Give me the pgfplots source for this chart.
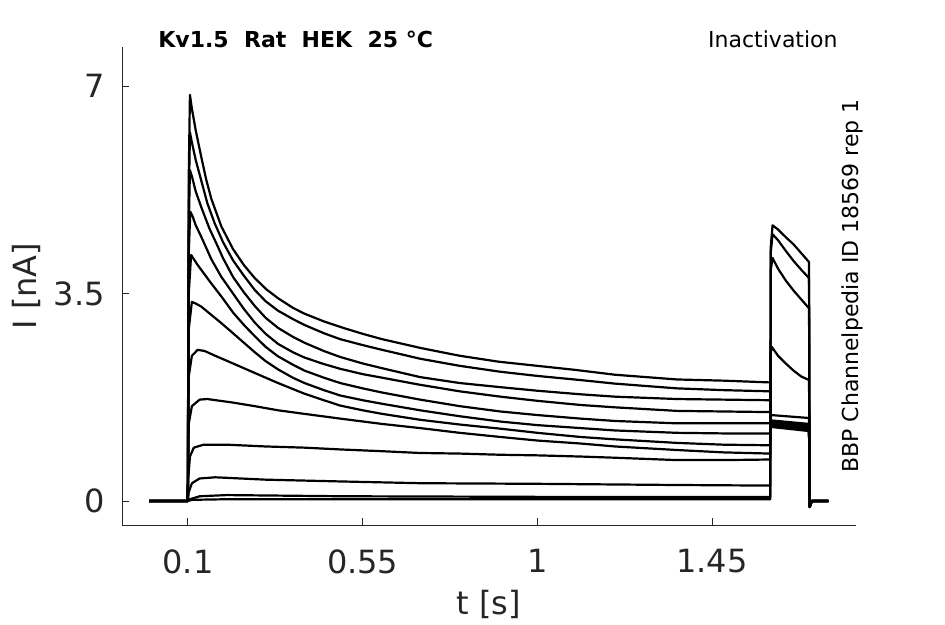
\documentclass[border=0pt]{standalone}
\usepackage{fontspec}
\setmainfont{DejaVu Sans}
\usepackage{pgfplots}
\pgfplotsset{compat=1.18}
\usetikzlibrary{calc}
\definecolor{axgray}{HTML}{262626}
\begin{document}
\begin{tikzpicture}
\begin{axis}[
  scale only axis, width=367pt, height=239pt,
  xmin=-0.070, xmax=1.821, ymin=-0.405, ymax=7.658,
  axis x line*=bottom, axis y line*=left,
  axis line style={axgray, line width=0.5pt, -},
  tick align=inside, major tick length=3.5pt,
  tick style={axgray, line width=0.5pt},
  xtick={0.1,0.55,1,1.45}, xticklabels={0.1,0.55,1,1.45},
  ytick={0,3.5,7}, yticklabels={0,3.5,7},
  ticklabel style={font=\fontsize{16}{19}\selectfont, text=axgray},
  xticklabel style={anchor=north, inner sep=0pt, yshift=-12pt},
  yticklabel style={anchor=east, inner sep=0pt, xshift=-8.5pt},
  /pgf/number format/assume math mode=true,
  clip=false,
  no markers,
  every axis plot post/.append style={black, solid, line width=1.1pt, line join=round},
]
\coordinate (sw) at (rel axis cs:0,0);
\coordinate (ne) at (rel axis cs:1,1);
% trace 1
\addplot table {
t I
0 0
0.0995 0
0.102 5.5
0.105 6.85
0.11 6.62
0.12 6.25
0.134 5.81
0.147 5.42
0.16 5.10
0.186 4.63
0.216 4.25
0.244 3.98
0.272 3.76
0.302 3.57
0.332 3.42
0.37 3.26
0.4 3.16
0.45 3.03
0.5 2.92
0.55 2.82
0.6 2.73
0.7 2.58
0.8 2.45
0.9 2.35
1.0 2.28
1.1 2.21
1.2 2.13
1.36 2.05
1.48 2.03
1.6 2.00
1.6015 1.25
1.70 1.18
1.7015 -0.1
1.707 0
1.75 0
};
% trace 2
\addplot table {
t I
0 0
0.0995 0
0.102 5.0
0.105 6.22
0.11 6.05
0.12 5.75
0.134 5.41
0.15 5.02
0.169 4.68
0.19 4.37
0.216 4.06
0.244 3.80
0.272 3.56
0.30 3.37
0.332 3.21
0.37 3.07
0.4 2.97
0.45 2.83
0.492 2.73
0.55 2.63
0.6 2.55
0.698 2.40
0.8 2.28
0.905 2.18
1.0 2.11
1.111 2.04
1.2 1.98
1.36 1.90
1.48 1.87
1.6 1.85
1.6015 1.26
1.70 1.19
1.7015 -0.1
1.707 0
1.75 0
};
% trace 3
\addplot table {
t I
0 0
0.0995 0
0.102 4.6
0.105 5.58
0.11 5.48
0.12 5.22
0.134 4.96
0.155 4.60
0.177 4.29
0.19 4.10
0.216 3.78
0.244 3.52
0.272 3.29
0.30 3.09
0.332 2.92
0.37 2.77
0.4 2.67
0.45 2.53
0.492 2.43
0.55 2.32
0.6 2.24
0.698 2.09
0.8 1.99
0.905 1.92
1.0 1.86
1.111 1.80
1.2 1.76
1.36 1.72
1.48 1.71
1.6 1.70
1.6015 1.27
1.70 1.20
1.7015 -0.1
1.707 0
1.75 0
};
% trace 4
\addplot table {
t I
0 0
0.0995 0
0.102 4.2
0.106 4.88
0.112 4.80
0.12 4.65
0.134 4.46
0.16 4.08
0.186 3.78
0.216 3.50
0.244 3.24
0.272 3.01
0.30 2.82
0.332 2.65
0.37 2.51
0.4 2.42
0.45 2.31
0.492 2.23
0.55 2.14
0.6 2.08
0.698 1.96
0.8 1.85
0.905 1.76
1.0 1.69
1.111 1.62
1.2 1.58
1.36 1.52
1.48 1.51
1.6 1.50
1.6015 1.28
1.70 1.22
1.7015 -0.1
1.707 0
1.75 0
};
% trace 5
\addplot table {
t I
0 0
0.0995 0
0.102 3.5
0.108 4.15
0.115 4.08
0.125 3.98
0.134 3.90
0.16 3.67
0.186 3.45
0.216 3.18
0.244 2.97
0.272 2.78
0.30 2.60
0.332 2.44
0.37 2.30
0.4 2.20
0.45 2.08
0.492 1.99
0.55 1.90
0.6 1.83
0.698 1.71
0.8 1.60
0.905 1.51
1.0 1.45
1.111 1.39
1.2 1.35
1.36 1.31
1.48 1.31
1.6 1.31
1.6015 1.30
1.70 1.24
1.7015 -0.1
1.707 0
1.75 0
};
% trace 6
\addplot table {
t I
0 0
0.0995 0
0.102 2.9
0.11 3.36
0.12 3.33
0.134 3.28
0.16 3.14
0.186 3.00
0.216 2.83
0.244 2.67
0.272 2.51
0.30 2.36
0.332 2.22
0.37 2.08
0.4 1.99
0.45 1.87
0.492 1.78
0.55 1.70
0.6 1.64
0.698 1.53
0.8 1.43
0.905 1.34
1.0 1.28
1.111 1.23
1.2 1.19
1.36 1.15
1.48 1.14
1.6 1.14
1.6015 1.33
1.70 1.27
1.7015 -0.1
1.707 0
1.75 0
};
% trace 7
\addplot table {
t I
0 0
0.0995 0
0.102 2.1
0.11 2.45
0.125 2.55
0.143 2.53
0.17 2.45
0.216 2.32
0.272 2.16
0.332 1.99
0.4 1.81
0.45 1.70
0.492 1.61
0.55 1.53
0.6 1.47
0.698 1.37
0.8 1.29
0.905 1.22
1.0 1.15
1.111 1.08
1.2 1.04
1.36 0.98
1.48 0.95
1.6 0.94
1.6015 1.36
1.70 1.30
1.7015 -0.1
1.707 0
1.75 0
};
% trace 8
\addplot table {
t I
0 0
0.0995 0
0.102 1.30
0.11 1.60
0.13 1.71
0.15 1.72
0.216 1.66
0.272 1.60
0.332 1.53
0.4 1.47
0.492 1.39
0.6 1.30
0.698 1.23
0.8 1.15
0.905 1.08
1.0 1.02
1.111 0.97
1.2 0.92
1.36 0.86
1.48 0.82
1.6 0.80
1.6015 1.45
1.70 1.40
1.7015 -0.1
1.707 0
1.75 0
};
% trace 9
\addplot table {
t I
0 0
0.0995 0
0.101 0.40
0.105 0.75
0.115 0.90
0.14 0.95
0.2 0.95
0.3 0.92
0.4 0.90
0.492 0.87
0.6 0.84
0.698 0.81
0.8 0.80
0.905 0.78
1.0 0.77
1.111 0.75
1.2 0.73
1.36 0.69
1.48 0.69
1.6 0.70
1.6015 2.50
1.604 2.60
1.62 2.45
1.64 2.32
1.66 2.20
1.68 2.10
1.70 2.04
1.7015 -0.1
1.707 0
1.75 0
};
% trace 10
\addplot table {
t I
0 0
0.0995 0
0.102 0.15
0.11 0.30
0.13 0.38
0.17 0.40
0.3 0.36
0.492 0.33
0.7 0.30
1.0 0.29
1.36 0.27
1.6 0.26
1.6015 3.90
1.606 4.10
1.62 3.92
1.64 3.72
1.66 3.55
1.68 3.40
1.70 3.25
1.7015 -0.1
1.707 0
1.75 0
};
% trace 11
\addplot table {
t I
0 0
0.0995 0
0.105 0.03
0.13 0.08
0.2 0.10
0.5 0.08
1.0 0.07
1.6 0.07
1.6015 4.20
1.606 4.50
1.62 4.40
1.64 4.22
1.66 4.05
1.68 3.90
1.70 3.76
1.7015 -0.1
1.707 0
1.75 0
};
% trace 12
\addplot table {
t I
0 0
0.0995 0
0.11 0.02
0.2 0.03
1.6 0.03
1.6015 4.30
1.606 4.65
1.62 4.58
1.64 4.45
1.66 4.33
1.68 4.18
1.70 4.03
1.7015 -0.1
1.707 0
1.75 0
};
\end{axis}
\node[anchor=base, font=\fontsize{16}{19}\selectfont, text=axgray] at ($(sw)!0.5!(sw -| ne)+(0,-44.5pt)$) {t [s]};
\node[anchor=base, rotate=90, font=\fontsize{16}{19}\selectfont, text=axgray] at ($(sw)!0.5!(sw |- ne)+(-42.5pt,0)$) {I [nA]};
\node[anchor=base west, inner sep=0pt, font=\fontsize{11}{13}\selectfont\bfseries] at ($(sw |- ne)+(18pt,0)$) {Kv1.5~~Rat~~HEK~~25~°C};
\node[anchor=base east, inner sep=0pt, font=\fontsize{11}{13}\selectfont] at ($(ne)+(-9pt,0)$) {Inactivation};
\node[anchor=base, rotate=90, inner sep=0pt, font=\fontsize{11}{13}\selectfont] at ($(ne)!0.5!(ne |- sw)+(1.2pt,0)$) {BBP Channelpedia ID 18569 rep 1};
\pgfresetboundingbox
\path ($(sw)+(-61pt,-49.5pt)$) rectangle ($(ne)+(44.5pt,23.5pt)$);
\end{tikzpicture}
\end{document}
